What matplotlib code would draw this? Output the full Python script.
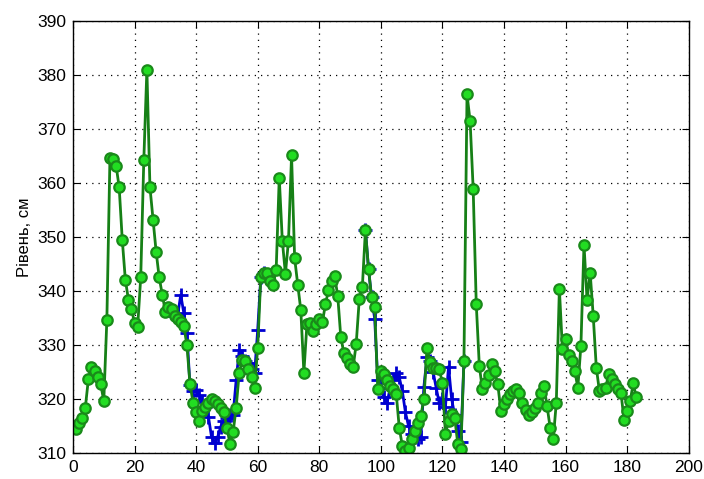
import numpy as np
import matplotlib
matplotlib.use("Agg")
import matplotlib.pyplot as plt

# Observed water level (green), one value per day
level_obs = [
    314.5, 315.5, 316.5, 318.4, 323.7, 326.0, 325.2, 324.0, 322.8, 319.6,
    334.7, 364.7, 364.5, 363.2, 359.2, 349.5, 342.1, 338.4, 336.7, 334.0,
    333.4, 342.5, 364.2, 381.0, 359.2, 353.2, 347.3, 342.5, 339.3, 336.2,
    337.1, 336.6, 335.4, 334.8, 334.2, 333.5, 330.0, 322.8, 319.3, 317.5,
    316.0, 317.8, 318.6, 319.2, 320.0, 319.6, 319.0, 318.4, 317.5, 314.7,
    311.7, 313.8, 318.4, 324.9, 327.2, 327.0, 325.5, 324.0, 322.1, 329.5,
    342.5, 343.4, 343.4, 341.8, 341.2, 343.9, 361.0, 349.3, 343.2, 349.3,
    365.1, 346.1, 341.2, 336.5, 324.9, 333.9, 334.0, 332.6, 333.9, 334.8,
    334.2, 337.5, 340.2, 341.9, 342.7, 339.1, 331.4, 328.5, 327.6, 326.4,
    325.9, 330.2, 338.5, 340.8, 351.3, 344.1, 338.8, 337.0, 321.8, 325.2,
    324.6, 323.5, 322.4, 321.8, 321.0, 314.6, 311.3, 310.4, 311.0, 312.5,
    314.0, 315.5, 316.9, 320.0, 329.5, 326.8, 325.8, 325.8, 325.5, 323.0,
    313.5, 316.0, 317.2, 316.5, 311.7, 310.7, 327.0, 376.4, 371.5, 358.9,
    337.6, 326.1, 321.8, 322.9, 324.5, 326.5, 325.2, 322.7, 317.8, 319.0,
    320.0, 320.9, 321.4, 321.8, 321.2, 319.3, 318.0, 317.0, 317.5, 318.3,
    319.3, 321.2, 322.4, 318.7, 314.7, 312.5, 319.3, 340.4, 329.2, 331.1,
    328.1, 327.1, 325.2, 322.1, 329.9, 348.6, 338.3, 343.4, 335.4, 325.8,
    321.5, 321.8, 322.0, 324.6, 323.7, 322.8, 321.8, 321.2, 316.2, 317.8,
    319.6, 322.9, 320.3,
]
days_obs = np.arange(1, len(level_obs) + 1)

# Computed level (blue) - only where it differs visibly from observed
days_calc_1 = np.arange(33, 63)
level_calc_1 = [
    335.4, 335.5, 339.3, 335.9, 332.2, 322.5, 321.5, 321.7, 320.7, 319.5,
    318.6, 316.7, 313.0, 311.8, 313.0, 314.9, 316.0, 316.5, 317.0, 317.0,
    323.5, 329.1, 328.0, 327.0, 326.6, 325.5, 324.8, 332.8, 342.5, 343.4,
]
days_calc_2 = np.arange(95, 128)
level_calc_2 = [
    351.3, 344.1, 338.8, 334.9, 323.5, 322.0, 320.4, 319.2, 322.0, 323.5,
    324.8, 324.0, 321.4, 317.5, 315.0, 313.6, 313.0, 312.5, 313.0, 322.3,
    327.8, 327.0, 325.0, 322.0, 319.2, 320.0, 318.6, 326.0, 320.0, 317.0,
    314.0, 312.0, 327.0,
]

plt.rcParams["font.family"] = ["Liberation Sans", "DejaVu Sans"]

fig = plt.figure(figsize=(7.04, 4.79), dpi=100)
ax = fig.add_axes([0.1037, 0.0543, 0.8745, 0.9019])

blue = "#0000d0"
for d, v in [(days_calc_1, level_calc_1), (days_calc_2, level_calc_2)]:
    ax.plot(d, v, color=blue, lw=2.0, marker="+", ms=10, mew=2.0)

ax.plot(days_obs, level_obs, color="#168016", lw=2.0, marker="o", ms=7.5,
        mfc="#22dd22", mec="#1a8a1a", mew=1.6)

ax.set_xlim(0, 200)
ax.set_ylim(310, 390)
ax.set_xticks(np.arange(0, 201, 20))
ax.set_yticks(np.arange(310, 391, 10))
ax.grid(True, color="black", linestyle=(0, (1, 4)), linewidth=0.9)
ax.tick_params(direction="in", length=5, top=True, right=True, labelsize=12.5, pad=5)
for s in ax.spines.values():
    s.set_linewidth(1.0)
ax.set_ylabel("Рівень, см", fontsize=12, labelpad=4)

fig.savefig("out.png", dpi=100)
